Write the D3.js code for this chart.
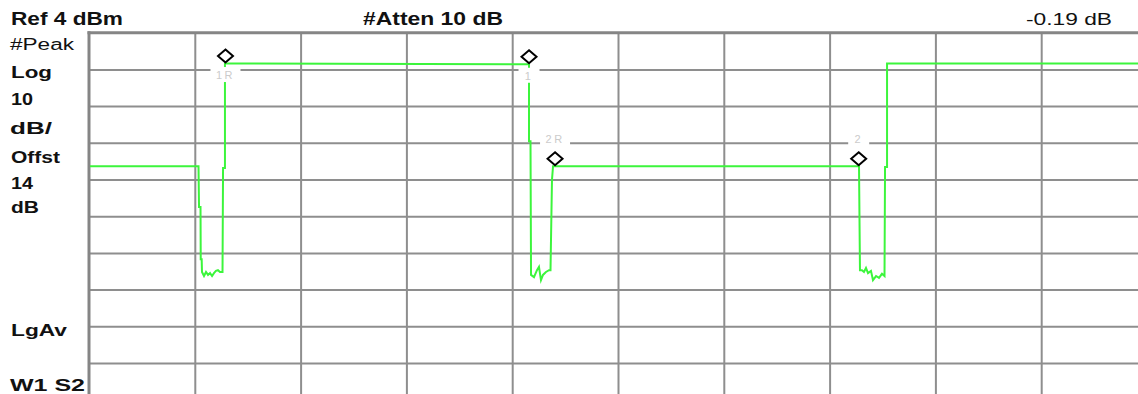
<!DOCTYPE html>
<html>
<head>
<meta charset="utf-8">
<script src="https://cdn.jsdelivr.net/npm/d3@7"></script>
<style>
  html, body { margin: 0; padding: 0; background: #fff; }
  svg { display: block; }
</style>
</head>
<body>
<svg id="chart" width="1138" height="394"></svg>
<script>
// Analyzer display settings
const refLevel = 4;          // dBm at the top graticule line
const dbPerDiv = 10;
const divisionsX = 10;
const divisionsY = 10;

// Annotation text
const headerText = ["Ref 4 dBm", "#Atten 10 dB", "-0.19 dB"];
const sideText = ["#Peak", "Log", "10", "dB/", "Offst", "14", "dB", "LgAv", "W1  S2"];

// Trace: sweep position (graticule divisions from the left edge) and level (dBm)
const traceX = [
  0.000, 1.035, 1.040, 1.054, 1.056, 1.065, 1.068, 1.087, 1.106, 1.125,
  1.144, 1.163, 1.181, 1.200, 1.219, 1.238, 1.262, 1.267, 1.285, 1.285,
  4.140, 4.159, 4.159, 4.173, 4.178, 4.206, 4.234, 4.253, 4.272, 4.291,
  4.319, 4.348, 4.362, 4.376, 4.386, 7.278, 7.287, 7.306, 7.325, 7.344,
  7.363, 7.391, 7.410, 7.439, 7.467, 7.495, 7.519, 7.524, 7.543, 7.543,
  10.000
];
const traceDbm = [
  -32.4, -32.4, -43.5, -43.5, -57.7, -57.7, -61.2, -62.3, -61.2, -62.0,
  -61.5, -62.3, -61.5, -60.9, -60.7, -61.2, -61.2, -32.9, -32.9, -4.4,
  -4.6, -4.6, -25.6, -25.6, -62.0, -62.6, -60.7, -59.8, -63.4, -62.0,
  -61.2, -60.7, -60.7, -36.1, -32.4, -32.4, -60.7, -60.7, -61.2, -60.1,
  -61.5, -60.9, -63.4, -62.3, -62.8, -61.7, -62.3, -32.6, -32.6, -4.4,
  -4.4
];

// Markers
const markerNames = ["1R", "1", "2R", "2"];
const markerX = [1.290, 4.159, 4.405, 7.275];
const markerDbm = [-4.4, -4.6, -32.4, -32.4];

// ---------------------------------------------------------------
const W = 1138, H = 394;
const plot = { left: 89, top: 32.7, divW: 105.8, divH: 36.7 };

const svg = d3.select("#chart");
svg.append("rect").attr("width", W).attr("height", H).attr("fill", "#fff");

const x = d3.scaleLinear()
  .domain([0, divisionsX])
  .range([plot.left, plot.left + divisionsX * plot.divW]);
const y = d3.scaleLinear()
  .domain([refLevel, refLevel - dbPerDiv * divisionsY])
  .range([plot.top, plot.top + divisionsY * plot.divH]);

const gridColor = "#8e8e8e";

// Vertical graticule lines
const gx = svg.append("g")
  .attr("transform", `translate(0,${y(refLevel)})`)
  .call(d3.axisBottom(x)
    .tickValues(d3.range(1, divisionsX + 1))
    .tickSize(y.range()[1] - y.range()[0])
    .tickFormat(""));
gx.select(".domain").remove();
gx.selectAll(".tick line").attr("stroke", gridColor).attr("stroke-width", 2);

// Horizontal graticule lines
const gy = svg.append("g")
  .attr("transform", `translate(${x(0)},0)`)
  .call(d3.axisRight(y)
    .tickValues(d3.range(1, divisionsY + 1).map(k => refLevel - k * dbPerDiv))
    .tickSize(x.range()[1] - x.range()[0])
    .tickFormat(""));
gy.select(".domain").remove();
gy.selectAll(".tick line").attr("stroke", gridColor).attr("stroke-width", 2);

// Frame edges (left and top)
svg.append("line")
  .attr("x1", x(0)).attr("x2", x(0))
  .attr("y1", y(refLevel) - 1.5).attr("y2", H)
  .attr("stroke", "#858585").attr("stroke-width", 3);
svg.append("line")
  .attr("x1", x(0) - 1.5).attr("x2", W)
  .attr("y1", y(refLevel)).attr("y2", y(refLevel))
  .attr("stroke", "#858585").attr("stroke-width", 3);

// Trace
svg.append("clipPath").attr("id", "plotClip")
  .append("rect")
  .attr("x", x(0) + 1).attr("y", y(refLevel) + 1)
  .attr("width", W - x(0)).attr("height", H - y(refLevel));

const tracePts = traceX.map((v, i) => [v, traceDbm[i]]);
svg.append("path")
  .datum(tracePts)
  .attr("clip-path", "url(#plotClip)")
  .attr("fill", "none")
  .attr("stroke", "#3cf53c")
  .attr("stroke-width", 2)
  .attr("stroke-linejoin", "miter")
  .attr("d", d3.line().x(d => x(d[0])).y(d => y(d[1])));

// Markers: diamond sits on the trace, label below when close to the top edge
const dHalfW = 7.5, dHalfH = 6.5;
markerNames.forEach((name, i) => {
  const cx = x(markerX[i]);
  const ty = y(markerDbm[i]);
  const cy = ty - dHalfH - 1;
  const below = (ty - y(refLevel)) < 60;
  const labelBase = below ? ty + 15.5 : cy - dHalfH - 9.5;
  const boxW = 12 + name.length * 9;

  svg.append("rect")
    .attr("x", cx - boxW / 2).attr("y", labelBase - 12)
    .attr("width", boxW).attr("height", 15)
    .attr("fill", "#fff");
  svg.append("text")
    .attr("x", cx).attr("y", labelBase)
    .attr("text-anchor", "middle")
    .attr("font-family", "Liberation Sans, Arial, sans-serif")
    .attr("font-size", 11)
    .attr("letter-spacing", 2.5)
    .attr("fill", "#cbcbcb")
    .text(name);

  svg.append("path")
    .attr("d", `M${cx},${cy - dHalfH} L${cx + dHalfW},${cy} L${cx},${cy + dHalfH} L${cx - dHalfW},${cy} Z`)
    .attr("fill", "#fff")
    .attr("stroke", "#000")
    .attr("stroke-width", 2);
});

// Text helper: stretched sans text fitted to a width
function label(str, x0, base, width, bold, size) {
  svg.append("text")
    .attr("x", x0).attr("y", base)
    .attr("font-family", "Liberation Sans, Arial, sans-serif")
    .attr("font-size", size)
    .attr("font-weight", bold ? "bold" : "normal")
    .attr("fill", "#111")
    .attr("textLength", width)
    .attr("lengthAdjust", "spacingAndGlyphs")
    .text(str);
}

// Header row
const headerLayout = [
  { x: 11, w: 112, bold: true, size: 18 },
  { x: 363, w: 140, bold: true, size: 18 },
  { x: 1026, w: 86, bold: false, size: 17 }
];
headerText.forEach((t, i) => {
  const L = headerLayout[i];
  label(t, L.x, 25, L.w, L.bold, L.size);
});

// Left-hand settings column
const sideLayout = [
  { x: 10, base: 50, w: 64, bold: false },
  { x: 11, base: 78, w: 41, bold: true },
  { x: 11, base: 105, w: 22, bold: true },
  { x: 10, base: 134, w: 42, bold: true },
  { x: 11, base: 163, w: 49, bold: true },
  { x: 11, base: 189, w: 22, bold: true },
  { x: 11, base: 213, w: 28, bold: true },
  { x: 11, base: 336, w: 56, bold: true },
  { x: 10, base: 391, w: 75, bold: true }
];
sideText.forEach((t, i) => {
  const L = sideLayout[i];
  label(t, L.x, L.base, L.w, L.bold, L.bold ? 17 : 16);
});
</script>
</body>
</html>
